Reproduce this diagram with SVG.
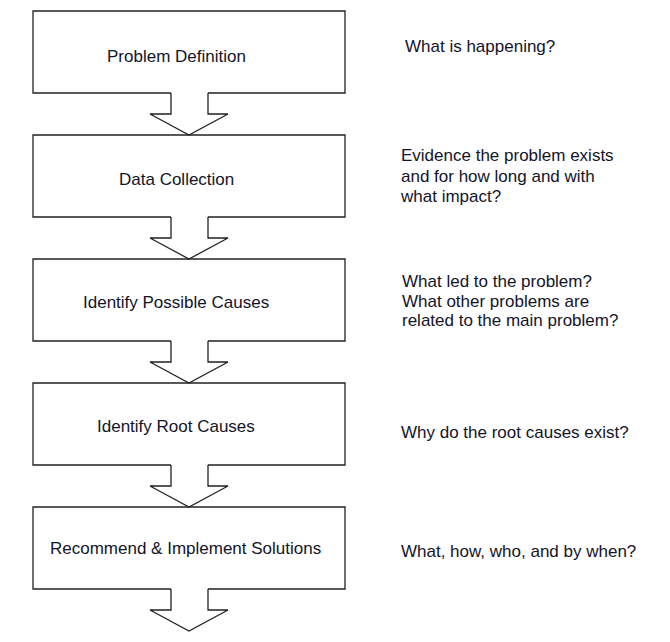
<svg xmlns="http://www.w3.org/2000/svg" width="670" height="642" viewBox="0 0 670 642">
  <style>
    .box { fill: none; stroke: #222; stroke-width: 1.3; }
    .arrow { fill: #fff; stroke: #222; stroke-width: 1.3; stroke-linejoin: miter; }
    .t { font-family: "Liberation Sans", Arial, sans-serif; font-size: 17px; fill: #141428; }
  </style>
  <rect width="670" height="642" fill="#fff"/>
  <g id="connectors">
    <path class="arrow" d="M171,93 V114 H150 L189,135 L228,114 H208 V93"/>
    <path class="arrow" d="M171,217 V238 H150 L189,259 L228,238 H208 V217"/>
    <path class="arrow" d="M171,341 V362 H150 L189,383 L228,362 H208 V341"/>
    <path class="arrow" d="M171,465 V486 H150 L189,507 L228,486 H208 V465"/>
    <path class="arrow" d="M171,589 V610 H150 L189,631 L228,610 H208 V589"/>
  </g>
  <g id="node1">
    <path class="box" d="M171,93 H33 V11 H345 V93 H208"/>
    <text class="t" x="107" y="62">Problem Definition</text>
  </g>
  <g id="node2">
    <path class="box" d="M171,217 H33 V135 H345 V217 H208"/>
    <text class="t" x="119" y="185">Data Collection</text>
  </g>
  <g id="node3">
    <path class="box" d="M171,341 H33 V259 H345 V341 H208"/>
    <text class="t" x="83" y="308">Identify Possible Causes</text>
  </g>
  <g id="node4">
    <path class="box" d="M171,465 H33 V383 H345 V465 H208"/>
    <text class="t" x="97" y="432">Identify Root Causes</text>
  </g>
  <g id="node5">
    <path class="box" d="M171,589 H33 V507 H345 V589 H208"/>
    <text class="t" x="50" y="554">Recommend &amp; Implement Solutions</text>
  </g>
  <g id="note1"><text class="t" x="405" y="52">What is happening?</text></g>
  <g id="note2">
    <text class="t" x="401" y="161">Evidence the problem exists</text>
    <text class="t" x="401" y="182">and for how long and with</text>
    <text class="t" x="401" y="202">what impact?</text>
  </g>
  <g id="note3">
    <text class="t" x="402" y="287">What led to the problem?</text>
    <text class="t" x="402" y="307">What other problems are</text>
    <text class="t" x="402" y="326">related to the main problem?</text>
  </g>
  <g id="note4"><text class="t" x="401" y="438">Why do the root causes exist?</text></g>
  <g id="note5"><text class="t" x="401" y="557">What, how, who, and by when?</text></g>
</svg>
